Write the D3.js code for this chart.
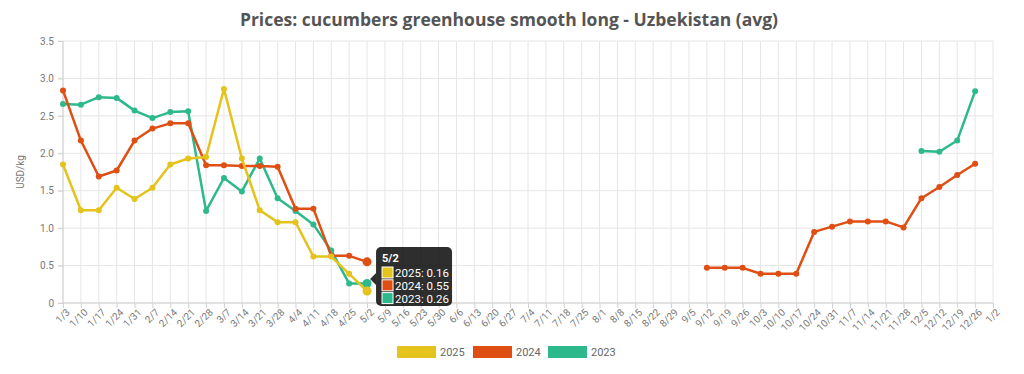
<!DOCTYPE html>
<meta charset="utf-8" />
<style>
  body { margin: 0; background: #fff; }
  text { font-family: Roboto, sans-serif; }
  .grid line { stroke: #e6e6e6; stroke-width: 1px; }
  .axis text { fill: #777; font-size: 10px; }
  .axis path, .axis line { stroke: #d0d0d0; }
</style>
<svg width="1024" height="374"></svg>
<script src="https://d3js.org/d3.v7.min.js"></script>
<script>
  var weeks = ["1/3","1/10","1/17","1/24","1/31","2/7","2/14","2/21","2/28","3/7","3/14","3/21","3/28",
    "4/4","4/11","4/18","4/25","5/2","5/9","5/16","5/23","5/30","6/6","6/13","6/20","6/27","7/4","7/11",
    "7/18","7/25","8/1","8/8","8/15","8/22","8/29","9/5","9/12","9/19","9/26","10/3","10/10","10/17",
    "10/24","10/31","11/7","11/14","11/21","11/28","12/5","12/12","12/19","12/26","1/2"];

  var n = null;
  var y2025 = [1.85,1.24,1.24,1.54,1.39,1.54,1.85,1.93,1.95,2.86,1.93,1.24,1.08,1.08,0.62,0.62,0.39,0.16];
  var y2024 = [2.84,2.17,1.69,1.77,2.17,2.33,2.40,2.40,1.84,1.84,1.83,1.83,1.82,1.26,1.26,0.63,0.63,0.55,
    n,n,n,n,n,n,n,n,n,n,n,n,n,n,n,n,n,n,
    0.47,0.47,0.47,0.39,0.39,0.39,0.95,1.02,1.09,1.09,1.09,1.01,1.40,1.55,1.71,1.86];
  var y2023 = [2.66,2.65,2.75,2.74,2.57,2.47,2.55,2.56,1.23,1.67,1.49,1.93,1.40,1.23,1.05,0.70,0.26,0.26,
    n,n,n,n,n,n,n,n,n,n,n,n,n,n,n,n,n,n,n,n,n,n,n,n,n,n,n,n,n,n,
    2.03,2.02,2.17,2.83];
  var yTicks = [0,0.5,1,1.5,2,2.5,3,3.5];

  var series = [
    { name: "2025", color: "#e3c31c", values: y2025 },
    { name: "2024", color: "#df4e12", values: y2024 },
    { name: "2023", color: "#2db98b", values: y2023 }
  ];
  var hoverIndex = 17;

  var svg = d3.select("svg");
  var x = d3.scalePoint().domain(weeks).range([63, 993]);
  var y = d3.scaleLinear().domain([0, 3.5]).range([303, 41]);

  // title
  svg.append("text")
    .attr("x", 509).attr("y", 26)
    .attr("text-anchor", "middle")
    .style("font-family", "'Open Sans', sans-serif")
    .style("font-weight", "bold")
    .style("font-size", "17.5px")
    .attr("fill", "#555")
    .text("Prices: cucumbers greenhouse smooth long - Uzbekistan (avg)");

  // grid
  var grid = svg.append("g").attr("class", "grid");
  grid.selectAll(".v").data(weeks).enter().append("line")
    .attr("x1", d => x(d)).attr("x2", d => x(d))
    .attr("y1", 41).attr("y2", 303);
  grid.selectAll(".h").data(yTicks).enter().append("line")
    .attr("x1", 58).attr("x2", 993)
    .attr("y1", d => y(d)).attr("y2", d => y(d));

  // axes
  var yAxis = svg.append("g").attr("class", "axis")
    .attr("transform", "translate(63,0)")
    .call(d3.axisLeft(y).tickValues(yTicks).tickSize(5).tickPadding(4)
      .tickFormat(d => d === 0 ? "0" : d3.format(".1f")(d)));
  yAxis.select(".domain").attr("d", "M0,41V303");

  var xAxis = svg.append("g").attr("class", "axis")
    .attr("transform", "translate(0,303)")
    .call(d3.axisBottom(x).tickSize(5).tickPadding(2));
  xAxis.select(".domain").attr("d", "M63,0H993");
  xAxis.selectAll("text")
    .attr("text-anchor", "end")
    .attr("dx", "-0.2em").attr("dy", "0.5em")
    .attr("transform", "rotate(-45)");

  svg.append("text")
    .attr("transform", "translate(24,172) rotate(-90)")
    .attr("text-anchor", "middle")
    .attr("fill", "#777")
    .style("font-size", "10px")
    .text("USD/kg");

  // lines
  var line = d3.line()
    .defined(d => d != null)
    .x((d, i) => x(weeks[i]))
    .y(d => y(d));

  series.slice().reverse().forEach(function (s) {
    var g = svg.append("g");
    g.append("path")
      .datum(s.values)
      .attr("fill", "none")
      .attr("stroke", s.color)
      .attr("stroke-width", 2.5)
      .attr("stroke-linejoin", "round")
      .attr("d", line);
    g.selectAll("circle")
      .data(s.values.map((v, i) => ({ v: v, i: i })).filter(d => d.v != null))
      .enter().append("circle")
      .attr("cx", d => x(weeks[d.i]))
      .attr("cy", d => y(d.v))
      .attr("r", d => d.i === hoverIndex ? 4.5 : 3)
      .attr("fill", s.color);
  });

  // tooltip at hovered week
  var tx = x(weeks[hoverIndex]) + 9, ty = 247;
  var tip = svg.append("g").attr("transform", "translate(" + tx + "," + ty + ")");
  tip.append("path")
    .attr("d", "M0,26 L-6,32 L0,38 Z")
    .attr("fill", "rgba(0,0,0,0.82)");
  tip.append("rect")
    .attr("width", 76).attr("height", 59).attr("rx", 5)
    .attr("fill", "rgba(0,0,0,0.82)");
  tip.append("text")
    .attr("x", 6).attr("y", 15)
    .attr("fill", "#fff")
    .style("font-size", "11px").style("font-weight", "bold")
    .text(weeks[hoverIndex]);
  series.forEach(function (s, k) {
    var ry = 20 + k * 12.8;
    tip.append("rect")
      .attr("x", 6).attr("y", ry).attr("width", 11).attr("height", 11)
      .attr("fill", s.color).attr("stroke", "#fff").attr("stroke-width", 1);
    tip.append("text")
      .attr("x", 19).attr("y", ry + 10)
      .attr("fill", "#fff")
      .style("font-size", "11.5px")
      .text(s.name + ": " + d3.format(".2f")(s.values[hoverIndex]));
  });

  // legend
  var legendX = [397, 473, 548];
  var legend = svg.append("g");
  series.forEach(function (s, k) {
    legend.append("rect")
      .attr("x", legendX[k]).attr("y", 346)
      .attr("width", 39).attr("height", 12)
      .attr("fill", s.color);
    legend.append("text")
      .attr("x", legendX[k] + 43).attr("y", 356)
      .attr("fill", "#666")
      .style("font-size", "11px")
      .text(s.name);
  });
</script>
